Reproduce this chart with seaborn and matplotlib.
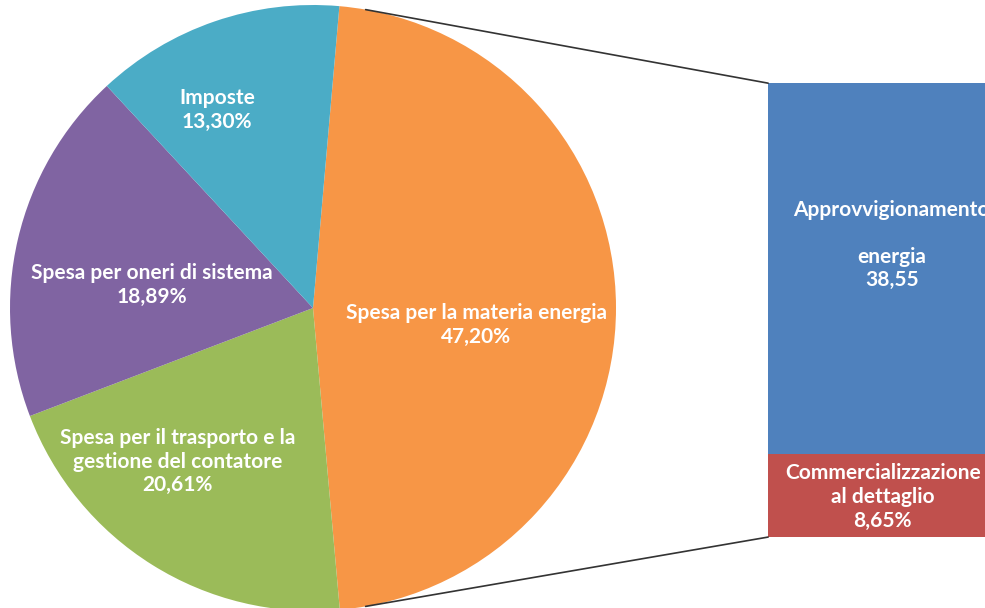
import numpy as np
import matplotlib
matplotlib.use("Agg")
import matplotlib.pyplot as plt
import seaborn as sns

# pie data (clockwise from the top)
pie_labels = ["Spesa per la materia energia",
              "Spesa per il trasporto e la\ngestione del contatore",
              "Spesa per oneri di sistema",
              "Imposte"]
pie_values = [47.20, 20.61, 18.89, 13.30]
pie_colors = ["#F79646", "#9BBB59", "#8064A2", "#4BACC6"]

# breakdown of the first slice
bar_labels = ["Commercializzazione\nal dettaglio", "Approvvigionamento\n\nenergia"]
bar_values = [8.65, 38.55]
bar_texts = ["8,65%", "38,55"]
bar_colors = ["#C0504D", "#4F81BD"]

sns.set_theme(style="white")
plt.rcParams['font.family'] = ['Lato', 'DejaVu Sans']
FS = 15
LS = 1.22

fig = plt.figure(figsize=(9.85, 6.08), dpi=100)
ax = fig.add_axes([0, 0, 1, 1])

wedges, _ = ax.pie(pie_values, colors=pie_colors, startangle=85,
                   counterclock=False, radius=1.0,
                   wedgeprops=dict(linewidth=0))

# label positions inside the slices (data units)
label_pos = [(0.538, -0.056), (-0.446, -0.508), (-0.531, 0.076), (-0.317, 0.653)]
for lab, val, (lx, ly) in zip(pie_labels, pie_values, label_pos):
    txt = f"{lab}\n{val:.2f}%".replace(".", ",")
    ax.text(lx, ly, txt, ha="center", va="center", color="white",
            fontsize=FS, fontweight="bold", linespacing=LS)

# stacked bar for the breakdown
bar_x = 1.875
bar_w = 0.746
bar_total_h = 1.498
bar_bottom = -0.756
scale = bar_total_h / sum(bar_values)
bottom = bar_bottom
bar_centers = []
for val, col in zip(bar_values, bar_colors):
    h = val * scale
    ax.bar(bar_x, h, width=bar_w, bottom=bottom, color=col, linewidth=0)
    bar_centers.append(bottom + h / 2)
    bottom += h

ax.text(bar_x + 0.005, bar_centers[0] - 0.005, f"{bar_labels[0]}\n{bar_texts[0]}",
        ha="center", va="center", color="white", fontsize=FS,
        fontweight="bold", linespacing=LS)
ax.text(bar_x + 0.035, 0.208, f"{bar_labels[1]}\n{bar_texts[1]}",
        ha="center", va="center", color="white", fontsize=FS,
        fontweight="bold", linespacing=LS)

# connector lines from the slice to the bar
left = bar_x - bar_w / 2
a1, a2 = np.deg2rad(80), np.deg2rad(-80)
ax.plot([np.cos(a1), left], [np.sin(a1), bottom], color="#333333", lw=1.2)
ax.plot([np.cos(a2), left], [np.sin(a2), bar_bottom], color="#333333", lw=1.2)

ax.set_xlim(-313 / 303, 672 / 303)
ax.set_ylim(-300 / 303, 308 / 303)
ax.set_aspect("equal")
ax.axis("off")

fig.savefig("out.png", dpi=100)
